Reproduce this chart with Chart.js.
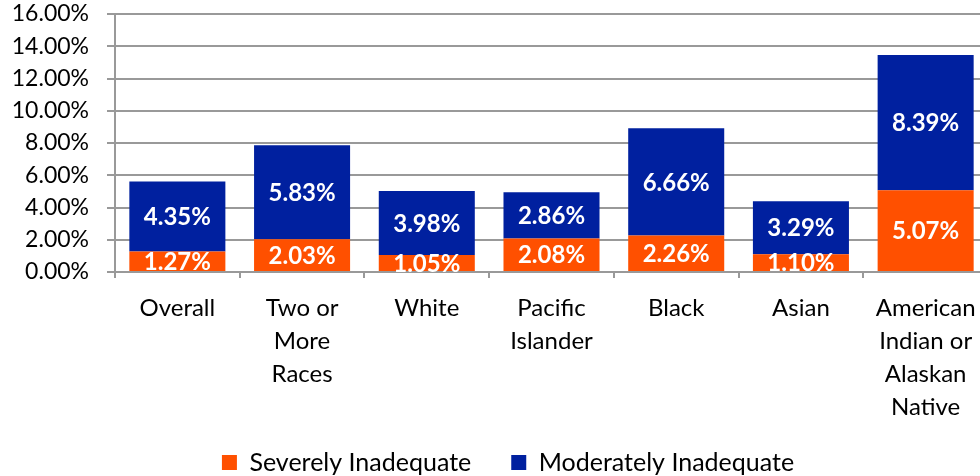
<!DOCTYPE html>
<html>
<head>
<meta charset="utf-8">
<script src="https://cdn.jsdelivr.net/npm/chart.js@4.4.1/dist/chart.umd.min.js"></script>
<style>
  html, body { margin: 0; padding: 0; background: #fff; overflow: hidden; }
  #wrap { width: 988px; height: 476px; }
</style>
</head>
<body>
<div id="wrap"><canvas id="chart1"></canvas></div>
<script>
const categories = [
  'Overall',
  ['Two or', 'More', 'Races'],
  'White',
  ['Pacific', 'Islander'],
  'Black',
  'Asian',
  ['American', 'Indian or', 'Alaskan', 'Native']
];
const severelyInadequate = [1.27, 2.03, 1.05, 2.08, 2.26, 1.10, 5.07];
const moderatelyInadequate = [4.35, 5.83, 3.98, 2.86, 6.66, 3.29, 8.39];
const yTicks = [0, 2, 4, 6, 8, 10, 12, 14, 16];

const fontFamily = 'Lato, "Open Sans", sans-serif';
const legendShift = 14;

// draws the white value labels in the middle of each segment
const barLabels = {
  id: 'barLabels',
  afterDatasetsDraw(chart) {
    const ctx = chart.ctx;
    ctx.save();
    ctx.fillStyle = '#fff';
    ctx.font = 'bold 24px ' + fontFamily;
    ctx.textAlign = 'center';
    ctx.textBaseline = 'middle';
    chart.data.datasets.forEach((ds, i) => {
      chart.getDatasetMeta(i).data.forEach((bar, j) => {
        ctx.fillText(ds.data[j].toFixed(2) + '%', bar.x, (bar.y + bar.base) / 2 + 1);
      });
    });
    ctx.restore();
  }
};

// nudge the legend a bit to the right, like the original
const legendNudge = {
  id: 'legendNudge',
  beforeDraw(chart) {
    const lg = chart.legend;
    if (!lg || lg._nudged) return;
    const draw = lg.draw;
    lg.draw = function () {
      this.ctx.save();
      this.ctx.translate(legendShift, 0);
      draw.apply(this, arguments);
      this.ctx.restore();
    };
    lg._nudged = true;
  }
};

renderChart();

function renderChart() {
  const ctx1 = document.getElementById('chart1');

  new Chart(ctx1, {
    type: 'bar',
    data: {
      labels: categories,
      datasets: [{
        label: 'Severely Inadequate',
        data: severelyInadequate,
        backgroundColor: '#FF5000'
      }, {
        label: 'Moderately Inadequate',
        data: moderatelyInadequate,
        backgroundColor: '#00209F'
      }]
    },
    plugins: [barLabels, legendNudge],
    options: {
      responsive: true,
      maintainAspectRatio: false,
      animation: false,
      layout: { padding: { top: 14, left: 0, right: 0, bottom: -9 } },
      plugins: {
        tooltip: { enabled: false },
        legend: {
          position: 'bottom',
          labels: {
            boxWidth: 15,
            boxHeight: 15,
            padding: 40,
            color: '#000',
            font: { family: fontFamily, size: 25 }
          }
        }
      },
      datasets: {
        bar: { barPercentage: 0.77, categoryPercentage: 1 }
      },
      scales: {
        x: {
          stacked: true,
          border: { color: '#999', width: 2 },
          grid: { drawOnChartArea: false, color: '#999', lineWidth: 2, tickLength: 6 },
          ticks: {
            color: '#000',
            padding: 14,
            maxRotation: 0,
            autoSkip: false,
            font: { family: fontFamily, size: 24, lineHeight: 1.375 }
          },
          afterFit(scale) {
            scale.height = 138;
            scale.paddingLeft = 0;
            scale.paddingRight = 0;
            // let the four-line label run past the scale box
            scale._computeLabelArea = () => undefined;
          }
        },
        y: {
          stacked: true,
          min: 0,
          max: 16,
          border: { color: '#999', width: 2 },
          grid: { color: '#999', lineWidth: 2, tickLength: 8 },
          afterBuildTicks(scale) { scale.ticks = yTicks.map(v => ({ value: v })); },
          ticks: {
            color: '#000',
            padding: 18,
            autoSkip: false,
            font: { family: fontFamily, size: 23 },
            callback: v => v.toFixed(2) + '%'
          },
          afterFit(scale) {
            scale.width = 115;
            scale.paddingTop = 0;
            scale.paddingBottom = 0;
          }
        }
      }
    }
  });
}
</script>
</body>
</html>
